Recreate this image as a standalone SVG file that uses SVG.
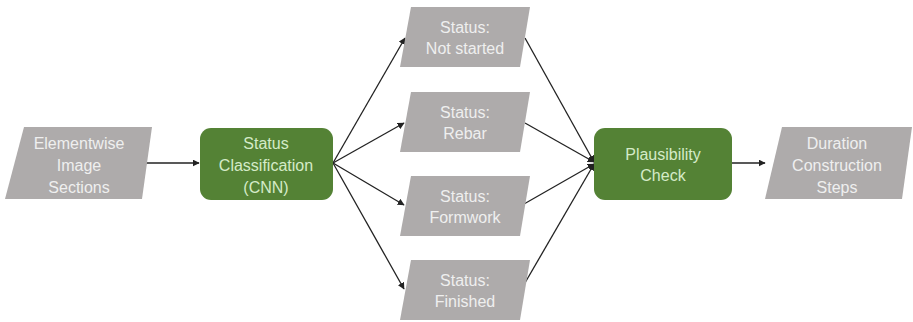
<svg xmlns="http://www.w3.org/2000/svg" width="913" height="322" viewBox="0 0 913 322">
<style>
.io{fill:#AEABAB}
.proc{fill:#548235}
.t{font-family:"Liberation Sans",Arial,sans-serif;font-size:16px;text-anchor:middle}
.ti{fill:#EFEFEF}
.tp{fill:#D5EBC8}
.c{stroke:#222;stroke-width:1.3;fill:none;marker-end:url(#ah)}
</style>
<defs>
<marker id="ah" viewBox="0 0 10 10" refX="9" refY="5" markerWidth="7" markerHeight="7" markerUnits="userSpaceOnUse" orient="auto">
<path d="M0,0 L10,5 L0,10 z" fill="#222"/>
</marker>
</defs>
<rect width="913" height="322" fill="#fff"/>
<g id="connectors">
<line class="c" x1="143" y1="163" x2="199" y2="163"/>
<line class="c" x1="333" y1="163" x2="405" y2="38"/>
<line class="c" x1="333" y1="163" x2="404" y2="123"/>
<line class="c" x1="333" y1="163" x2="404" y2="205"/>
<line class="c" x1="333" y1="163" x2="404" y2="289"/>
<line class="c" x1="525" y1="38" x2="594" y2="162"/>
<line class="c" x1="525" y1="123" x2="594" y2="162"/>
<line class="c" x1="524" y1="204" x2="594" y2="164"/>
<line class="c" x1="522" y1="288" x2="594" y2="164"/>
<line class="c" x1="732" y1="163" x2="765" y2="163"/>
</g>
<g id="n-input">
<polygon class="io" points="24,127 152,127 142,199 5,199"/>
<text class="t ti" x="79" y="149">Elementwise</text>
<text class="t ti" x="79" y="171">Image</text>
<text class="t ti" x="79" y="193">Sections</text>
</g>
<g id="n-classify">
<rect class="proc" x="200" y="128" width="133" height="72" rx="11"/>
<text class="t tp" x="266" y="149">Status</text>
<text class="t tp" x="266" y="171">Classification</text>
<text class="t tp" x="266" y="193">(CNN)</text>
</g>
<g id="n-notstarted">
<polygon class="io" points="411,7 530,7 520,67 400,67"/>
<text class="t ti" x="465" y="33">Status:</text>
<text class="t ti" x="465" y="54">Not started</text>
</g>
<g id="n-rebar">
<polygon class="io" points="411,92 530,92 520,152 400,152"/>
<text class="t ti" x="465" y="118">Status:</text>
<text class="t ti" x="465" y="139">Rebar</text>
</g>
<g id="n-formwork">
<polygon class="io" points="411,176 530,176 520,236 400,236"/>
<text class="t ti" x="465" y="202">Status:</text>
<text class="t ti" x="465" y="223">Formwork</text>
</g>
<g id="n-finished">
<polygon class="io" points="411,260 530,260 520,320 400,320"/>
<text class="t ti" x="465" y="286">Status:</text>
<text class="t ti" x="465" y="307">Finished</text>
</g>
<g id="n-plausibility">
<rect class="proc" x="594" y="128" width="138" height="72" rx="11"/>
<text class="t tp" x="663" y="160">Plausibility</text>
<text class="t tp" x="663" y="181">Check</text>
</g>
<g id="n-output">
<polygon class="io" points="782,127 912,127 902,199 765,199"/>
<text class="t ti" x="837" y="149">Duration</text>
<text class="t ti" x="837" y="171">Construction</text>
<text class="t ti" x="837" y="193">Steps</text>
</g>
</svg>
